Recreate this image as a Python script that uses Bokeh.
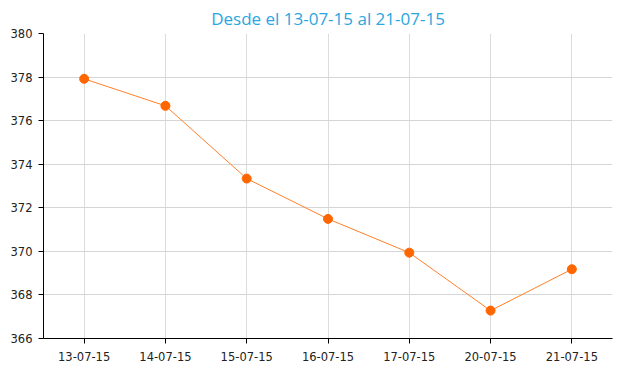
from bokeh.plotting import figure
from bokeh.embed import file_html
from bokeh.resources import INLINE
from bokeh.models import FixedTicker

dates = ["13-07-15", "14-07-15", "15-07-15", "16-07-15", "17-07-15", "20-07-15", "21-07-15"]
values = [377.92, 376.68, 373.34, 371.49, 369.94, 367.28, 369.18]
y_ticks = [366, 368, 370, 372, 374, 376, 378, 380]

p = figure(width=614, height=367, x_range=dates, y_range=(366, 380),
           output_backend="svg", toolbar_location=None,
           min_border_left=43, min_border_right=2, min_border_top=4, min_border_bottom=29)

p.title.text = "Desde el 13-07-15 al 21-07-15"
p.title.align = "center"
p.title.text_color = "#2aa6e0"
p.title.text_font = "Open Sans"
p.title.text_font_size = "17px"
p.title.text_font_style = "normal"
p.title.standoff = 8

p.outline_line_color = None
p.background_fill_color = "white"
p.border_fill_color = "white"

p.line(dates, values, line_color="#ff7f2a", line_width=1)
p.scatter(dates, values, size=9, fill_color="#ff6600", line_color="#ff6600")

p.yaxis.ticker = FixedTicker(ticks=y_ticks)
p.yaxis.minor_tick_line_color = None
for ax in (p.xaxis, p.yaxis):
    ax.axis_line_color = "black"
    ax.axis_line_width = 1
    ax.major_tick_line_color = "black"
    ax.major_tick_out = 5
    ax.major_tick_in = 0
    ax.major_label_text_font = "DejaVu Sans"
    ax.major_label_text_font_size = "11.5px"
    ax.major_label_text_color = "#222222"
p.yaxis.major_label_standoff = 6
p.xaxis.major_label_standoff = 8

p.xgrid.grid_line_color = "#dcdcdc"
p.ygrid.grid_line_color = "#d6d6d6"

open("out.html", "w").write(file_html(p, INLINE))
